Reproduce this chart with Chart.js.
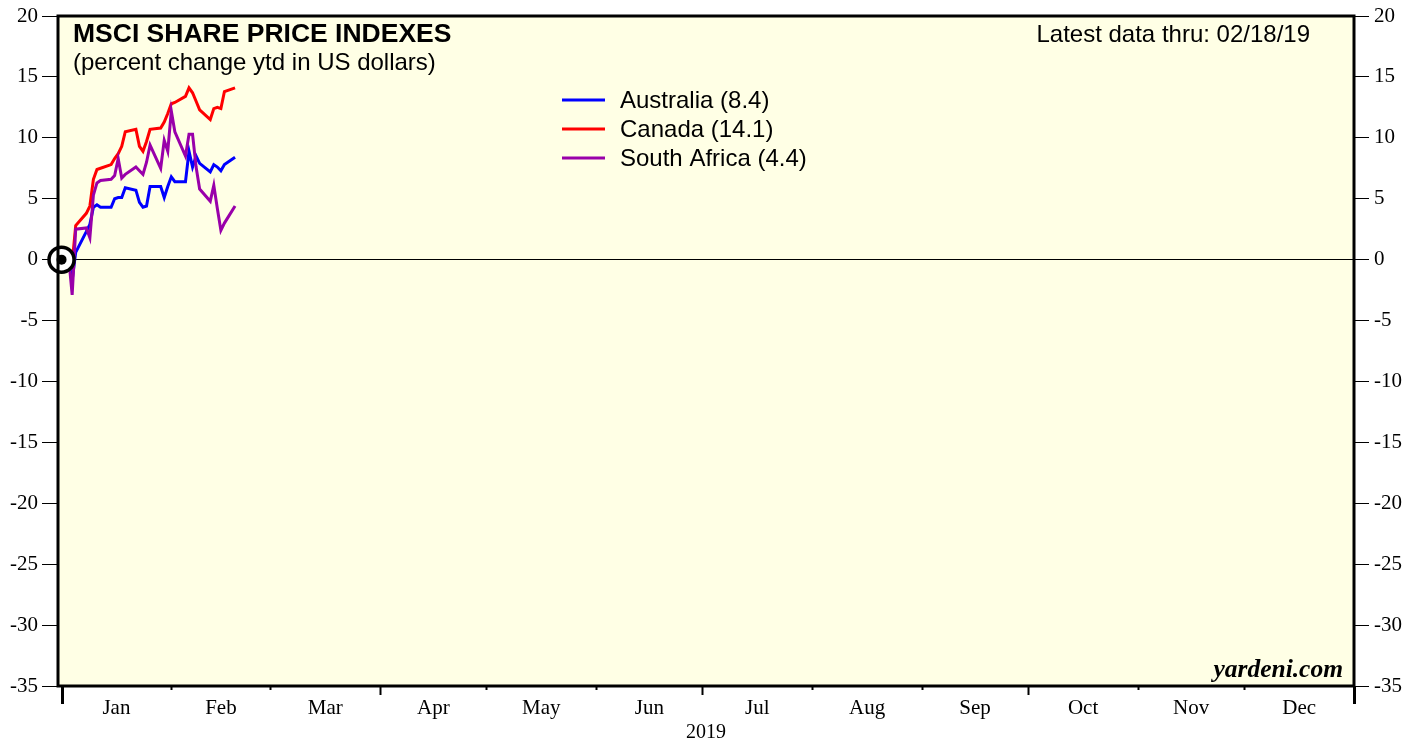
<!DOCTYPE html>
<html>
<head>
<meta charset="utf-8">
<script src="https://cdn.jsdelivr.net/npm/chart.js@4.4.1/dist/chart.umd.min.js"></script>
<style>
  html, body { margin: 0; padding: 0; background: #fff; }
  #wrap { width: 1421px; height: 742px; position: relative; }
</style>
</head>
<body>
<div id="wrap"><canvas id="chart"></canvas></div>
<script>
// x = day of 2019 at the close (0 = close of Dec 31, 2018)
const tradingDays = [0, 2, 3, 4, 7, 8, 9, 10, 11, 14, 15, 16, 17, 18, 21, 22, 23, 24, 25,
  28, 29, 30, 31, 32, 35, 36, 37, 38, 39, 42, 43, 44, 45, 46, 49];

// percent change ytd in US dollars
const australia = [0, -0.2, -1.7, 0.6, 2.3, 2.9, 4.3, 4.5, 4.3, 4.3, 5.0, 5.1, 5.1, 5.9, 5.7, 4.7, 4.3, 4.4, 6.0,
  6.0, 5.1, 6.0, 6.8, 6.4, 6.4, 8.9, 7.6, 8.5, 7.9, 7.2, 7.8, 7.6, 7.3, 7.8, 8.4];
const canada = [0, 0.5, -0.3, 2.8, 3.8, 4.4, 6.6, 7.4, 7.5, 7.8, 8.3, 8.7, 9.3, 10.5, 10.7, 9.3, 8.9, 9.7, 10.7,
  10.8, 11.3, 12.0, 12.8, 12.9, 13.4, 14.1, 13.7, 13.0, 12.3, 11.5, 12.4, 12.5, 12.4, 13.8, 14.1];
const southAfrica = [0, 0.2, -2.9, 2.5, 2.6, 1.8, 5.3, 6.3, 6.5, 6.6, 6.9, 8.3, 6.7, 7.0, 7.6, 7.3, 7.0, 8.0, 9.4,
  7.5, 9.8, 8.9, 12.2, 10.5, 8.5, 10.3, 10.3, 7.6, 5.8, 4.8, 6.1, 4.2, 2.4, 3.0, 4.4];

const seriesNames = ['Australia', 'Canada', 'South Africa'];
const seriesValues = [australia, canada, southAfrica];
const seriesColors = ['#0000ff', '#ff0000', '#9900aa'];

const monthNames = ['Jan', 'Feb', 'Mar', 'Apr', 'May', 'Jun', 'Jul', 'Aug', 'Sep', 'Oct', 'Nov', 'Dec'];
const monthStarts = [0, 31, 59, 90, 120, 151, 181, 212, 243, 273, 304, 334, 365];
const yearLabel = '2019';
const xMin = -1, xMax = 365;
const yMin = -35, yMax = 20, yStep = 5;

const title = 'MSCI SHARE PRICE INDEXES';
const subtitle = '(percent change ytd in US dollars)';
const latest = 'Latest data thru: 02/18/19';
const source = 'yardeni.com';

const monthMids = monthNames.map((m, i) => (monthStarts[i] + monthStarts[i + 1]) / 2);

const SERIF = '"Liberation Serif", "Times New Roman", serif';
const SANS = '"Liberation Sans", Arial, sans-serif';

const datasets = seriesNames.map((name, i) => ({
  label: `${name} (${seriesValues[i][seriesValues[i].length - 1].toFixed(1)})`,
  data: tradingDays.map((d, j) => ({ x: d, y: seriesValues[i][j] })),
  borderColor: seriesColors[i],
  backgroundColor: seriesColors[i],
  borderWidth: 3,
  pointRadius: 0,
  tension: 0,
  order: 3 - i
}));

// start marker at 0
datasets.push({
  label: 'start',
  data: [{ x: tradingDays[0], y: 0 }],
  pointRadius: 12.5,
  pointBorderWidth: 3.5,
  pointBackgroundColor: '#fff',
  pointBorderColor: '#000',
  showLine: false,
  clip: false,
  order: -2
});
datasets.push({
  label: 'start-dot',
  data: [{ x: tradingDays[0], y: 0 }],
  pointRadius: 5,
  pointBorderWidth: 0,
  pointBackgroundColor: '#000',
  showLine: false,
  clip: false,
  order: -3
});

const frame = {
  id: 'frame',
  beforeDraw(chart) {
    const { ctx, chartArea: a } = chart;
    ctx.save();
    ctx.fillStyle = '#ffffe5';
    ctx.fillRect(a.left, a.top, a.right - a.left, a.bottom - a.top);
    ctx.restore();
  },
  afterDatasetsDraw(chart) {
    const { ctx, chartArea: a } = chart;
    ctx.save();
    ctx.strokeStyle = '#000';
    ctx.lineWidth = 3;
    ctx.strokeRect(a.left, a.top, a.right - a.left, a.bottom - a.top);
    ctx.restore();
  },
  afterDraw(chart) {
    const { ctx, chartArea: a } = chart;
    const xs = chart.scales.x;
    ctx.save();
    ctx.strokeStyle = '#000';

    // month boundary ticks below the frame
    monthStarts.forEach((d, i) => {
      const px = Math.round(xs.getPixelForValue(d)) + 0.5;
      let len = 4;
      if (i % 3 === 0) len = 9;
      if (i === 0 || i === monthStarts.length - 1) len = 18;
      ctx.lineWidth = (i === 0 || i === monthStarts.length - 1) ? 3 : 2;
      ctx.beginPath();
      ctx.moveTo(px, a.bottom);
      ctx.lineTo(px, a.bottom + len);
      ctx.stroke();
    });

    // titles
    ctx.fillStyle = '#000';
    ctx.textBaseline = 'alphabetic';
    ctx.textAlign = 'left';
    ctx.font = `bold 26.5px ${SANS}`;
    ctx.fillText(title, 73, 42);
    ctx.font = `24px ${SANS}`;
    ctx.fillText(subtitle, 73, 70);
    ctx.textAlign = 'right';
    ctx.fillText(latest, 1310, 42);

    // legend
    ctx.textAlign = 'left';
    ctx.textBaseline = 'middle';
    chart.data.datasets.slice(0, seriesNames.length).forEach((ds, i) => {
      const y = 100 + i * 29;
      ctx.strokeStyle = ds.borderColor;
      ctx.lineWidth = 3;
      ctx.beginPath();
      ctx.moveTo(562, y);
      ctx.lineTo(605, y);
      ctx.stroke();
      ctx.fillStyle = '#000';
      ctx.fillText(ds.label, 620, y + 1);
    });

    // source
    ctx.textAlign = 'right';
    ctx.textBaseline = 'alphabetic';
    ctx.font = `italic bold 25.5px ${SERIF}`;
    ctx.fillText(source, 1343, 677);
    ctx.restore();
  }
};

const yTicksFont = { family: SERIF, size: 21, lineHeight: 0.8 };

new Chart(document.getElementById('chart'), {
  type: 'line',
  data: { datasets },
  options: {
    responsive: true,
    maintainAspectRatio: false,
    animation: false,
    layout: { padding: { top: 13, left: 0, right: 0, bottom: 0 } },
    plugins: { legend: { display: false }, tooltip: { enabled: false } },
    scales: {
      x: {
        type: 'linear',
        min: xMin,
        max: xMax,
        afterBuildTicks(s) { s.ticks = monthMids.map(v => ({ value: v })); },
        ticks: {
          autoSkip: false,
          maxRotation: 0,
          color: '#000',
          font: { family: SERIF, size: 21 },
          padding: 10,
          callback: (v, i) => monthNames[i]
        },
        grid: { drawOnChartArea: false, drawTicks: false },
        border: { display: false },
        title: { display: true, text: yearLabel, color: '#000', font: { family: SERIF, size: 20 }, padding: { top: 0, bottom: -3 } },
        afterFit(s) { s.height = 56; }
      },
      y: {
        type: 'linear',
        position: 'left',
        min: yMin,
        max: yMax,
        ticks: { stepSize: yStep, color: '#000', font: yTicksFont, padding: 4 },
        grid: {
          color: c => (c.tick && c.tick.value === 0 ? '#000' : 'rgba(0,0,0,0)'),
          tickColor: '#000',
          tickLength: 16,
          lineWidth: 1
        },
        border: { display: false },
        afterFit(s) { s.width = 58; }
      },
      y2: {
        type: 'linear',
        position: 'right',
        min: yMin,
        max: yMax,
        ticks: { stepSize: yStep, color: '#000', font: yTicksFont, padding: 5 },
        grid: { drawOnChartArea: false, tickColor: '#000', tickLength: 15, lineWidth: 1 },
        border: { display: false },
        afterFit(s) { s.width = 67; }
      }
    }
  },
  plugins: [frame]
});
</script>
</body>
</html>
